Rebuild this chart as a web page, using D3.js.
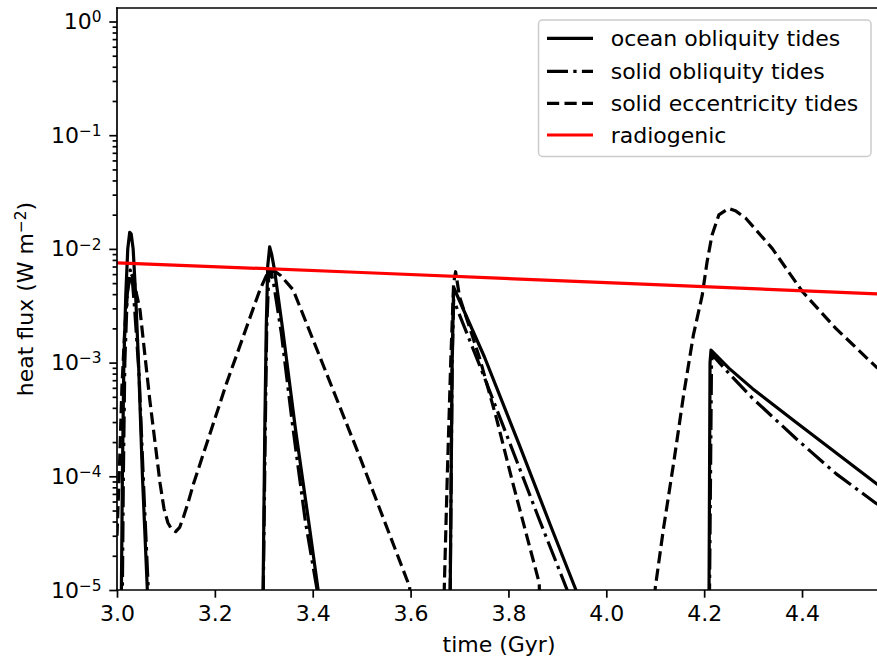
<!DOCTYPE html>
<html>
<head>
<meta charset="utf-8">
<script src="https://cdn.jsdelivr.net/npm/d3@7"></script>
<style>
  html, body { margin: 0; padding: 0; background: #fff; }
  svg { display: block; font-family: "DejaVu Sans", sans-serif; }
</style>
</head>
<body>
<div id="chart"></div>
<script>
// series as [time (Gyr), heat flux (W m^-2)]
// values below 1e-5 just run off the bottom of the axes
const oceanTides = [
  [3.000, 1e-7], [3.006, 1e-7], [3.009, 1e-5], [3.011, 1e-4], [3.014, 1e-3], [3.018, 4e-3],
  [3.022, 1e-2], [3.026, 1.4e-2], [3.029, 1.35e-2], [3.033, 1e-2], [3.038, 4e-3], [3.044, 1e-3],
  [3.052, 1e-4], [3.062, 1e-5], [3.068, 1e-7],
  [3.296, 1e-7], [3.2986, 1e-5], [3.302, 2.5e-4], [3.305, 2e-3], [3.308, 7e-3], [3.312, 1.04e-2],
  [3.316, 9e-3], [3.322, 6.5e-3], [3.339, 1.9e-3], [3.365, 2.55e-4], [3.394, 3.4e-5], [3.411, 1e-5],
  [3.420, 1e-7],
  [3.677, 1e-7], [3.681, 1e-5], [3.683, 1e-4], [3.685, 1e-3], [3.688, 4.6e-3], [3.700, 3.5e-3],
  [3.751, 1.12e-3], [3.822, 1.9e-4], [3.887, 3.6e-5], [3.938, 1e-5], [3.950, 1e-7],
  [4.206, 1e-7], [4.210, 1e-5], [4.211, 1e-4], [4.212, 1e-3], [4.214, 1.29e-3], [4.251, 8.9e-4],
  [4.299, 5.9e-4], [4.387, 3.0e-4], [4.470, 1.6e-4], [4.551, 8.7e-5], [4.565, 7.85e-5]
];

const solidObliquityTides = [
  [3.000, 1e-7], [3.008, 1e-7], [3.011, 1e-5], [3.013, 1e-4], [3.016, 1e-3], [3.021, 4e-3],
  [3.027, 6.5e-3], [3.031, 5.5e-3], [3.036, 3e-3], [3.045, 8e-4], [3.054, 9e-5], [3.064, 1e-5],
  [3.070, 1e-7],
  [3.296, 1e-7], [3.299, 1e-5], [3.303, 2.5e-4], [3.306, 2e-3], [3.310, 5.5e-3], [3.314, 6.5e-3],
  [3.320, 5e-3], [3.336, 1.8e-3], [3.358, 3e-4], [3.385, 4e-5], [3.409, 1e-5], [3.420, 1e-7],
  [3.677, 1e-7], [3.681, 1e-5], [3.683, 1e-4], [3.685, 1e-3], [3.688, 3.56e-3], [3.700, 2.63e-3],
  [3.741, 9.5e-4], [3.802, 2.0e-4], [3.860, 4.5e-5], [3.920, 1e-5], [3.930, 1e-7],
  [4.207, 1e-7], [4.211, 1e-5], [4.213, 1e-4], [4.215, 1e-3], [4.217, 1.17e-3], [4.251, 8.0e-4],
  [4.299, 4.85e-4], [4.387, 2.16e-4], [4.470, 1.05e-4], [4.551, 5.8e-5], [4.565, 5.3e-5]
];

const eccentricityTides = [
  [3.000, 3e-5], [3.005, 1.2e-4], [3.010, 6e-4], [3.016, 2e-3], [3.022, 4.5e-3], [3.029, 6e-3],
  [3.034, 5.5e-3], [3.040, 4e-3], [3.047, 2.9e-3], [3.067, 4.7e-4], [3.088, 8.7e-5], [3.096, 5.2e-5],
  [3.104, 3.9e-5], [3.112, 3.4e-5], [3.120, 3.26e-5], [3.128, 3.55e-5], [3.136, 4.4e-5],
  [3.146, 6.0e-5], [3.156, 8.5e-5],
  [3.224, 6.6e-4], [3.292, 4.36e-3], [3.305, 5.8e-3], [3.319, 6.5e-3], [3.335, 5.8e-3],
  [3.360, 4.36e-3], [3.428, 8.05e-4], [3.496, 1.49e-4], [3.598, 1.07e-5], [3.620, 1e-7],
  [3.660, 1e-7], [3.669, 1.1e-5], [3.675, 1e-4], [3.682, 1e-3], [3.688, 5e-3], [3.692, 6.3e-3],
  [3.700, 3.8e-3], [3.741, 1.1e-3], [3.775, 3.3e-4], [3.809, 8.7e-5], [3.863, 1.15e-5],
  [3.870, 1e-7],
  [4.090, 1e-7], [4.100, 1.04e-5], [4.117, 3.5e-5], [4.138, 1.34e-4], [4.158, 5.2e-4],
  [4.178, 1.75e-3], [4.196, 3.9e-3], [4.206, 7.7e-3], [4.216, 1.32e-2], [4.230, 1.99e-2],
  [4.250, 2.27e-2], [4.265, 2.15e-2], [4.285, 1.86e-2], [4.339, 1.01e-2], [4.401, 4.2e-3],
  [4.469, 2.0e-3], [4.551, 9.2e-4], [4.565, 8.3e-4]
];

const radiogenic = [[3.0, 7.55e-3], [3.5, 6.2e-3], [4.05, 4.95e-3], [4.565, 4.0e-3]];

const xTicks = [3.0, 3.2, 3.4, 3.6, 3.8, 4.0, 4.2, 4.4];
const yDecades = [-5, -4, -3, -2, -1, 0];

const seriesNames = ['ocean obliquity tides', 'solid obliquity tides', 'solid eccentricity tides', 'radiogenic'];

// pixel layout
const width = 877, height = 662;
const plot = { left: 117, top: 8, right: 881, bottom: 590 };
const lw = 3.2;
const styles = [
  { data: oceanTides, color: '#000', dash: null },
  { data: solidObliquityTides, color: '#000', dash: '21,5.3,3.3,5.3' },
  { data: eccentricityTides, color: '#000', dash: '12.2,5.3' },
  { data: radiogenic, color: '#ff0000', dash: null }
];

const xScale = d3.scaleLinear()
  .domain([3.0, 3.0 + (plot.right - plot.left) / 489.3])
  .range([plot.left, plot.right]);

const yScale = d3.scaleLog()
  .domain([1e-5, Math.pow(10, (plot.bottom - plot.top) / 113.7 - 5)])
  .range([plot.bottom, plot.top]);

const svg = d3.select('#chart').append('svg')
  .attr('width', width)
  .attr('height', height)
  .attr('viewBox', `0 0 ${width} ${height}`);

svg.append('defs').append('clipPath').attr('id', 'plot-clip')
  .append('rect')
  .attr('x', plot.left).attr('y', plot.top)
  .attr('width', plot.right - plot.left).attr('height', plot.bottom - plot.top);

// lines
const line = d3.line()
  .x(d => xScale(d[0]))
  .y(d => yScale(d[1]));

const lines = svg.append('g').attr('clip-path', 'url(#plot-clip)');
styles.forEach(s => {
  lines.append('path')
    .datum(s.data)
    .attr('d', line)
    .attr('fill', 'none')
    .attr('stroke', s.color)
    .attr('stroke-width', lw)
    .attr('stroke-linejoin', 'round')
    .attr('stroke-dasharray', s.dash);
});

// axes
const fontSize = 22;
const tickLen = 7.7, tickPad = 7.7;

svg.append('g')
  .attr('transform', `translate(0, ${plot.bottom})`)
  .call(d3.axisBottom(xScale).tickValues(xTicks).tickFormat(d3.format('.1f'))
    .tickSize(tickLen).tickPadding(tickPad).tickSizeOuter(0));

// minor log ticks
const minor = [];
yDecades.forEach(e => {
  for (let k = 2; k <= 9; k++) {
    const v = k * Math.pow(10, e);
    if (v <= yScale.domain()[1]) minor.push(v);
  }
});
svg.append('g')
  .attr('transform', `translate(${plot.left}, 0)`)
  .call(d3.axisLeft(yScale).tickValues(minor).tickFormat('').tickSize(4.4).tickSizeOuter(0));

const yAxis = svg.append('g')
  .attr('transform', `translate(${plot.left}, 0)`)
  .call(d3.axisLeft(yScale).tickValues(yDecades.map(e => Math.pow(10, e)))
    .tickSize(tickLen).tickPadding(tickPad).tickSizeOuter(0).tickFormat(''));

yAxis.selectAll('.tick text').each(function (d) {
  const e = Math.round(Math.log10(d));
  const t = d3.select(this);
  t.append('tspan').text('10');
  t.append('tspan').attr('dy', '-0.45em').attr('font-size', '0.7em')
    .text(e < 0 ? '\u2212' + (-e) : String(e));
});

svg.selectAll('.domain').remove();
svg.selectAll('.tick line').attr('stroke', '#000').attr('stroke-width', 1.7);
svg.selectAll('.tick text').attr('font-size', fontSize).attr('fill', '#000')
  .attr('font-family', '"DejaVu Sans", sans-serif');

// spines (right one falls past the picture edge)
const spine = svg.append('g').attr('stroke', '#000').attr('stroke-width', 1.7)
  .attr('stroke-linecap', 'square');
spine.append('line').attr('x1', plot.left).attr('x2', plot.left).attr('y1', plot.top).attr('y2', plot.bottom);
spine.append('line').attr('x1', plot.left).attr('x2', plot.right).attr('y1', plot.bottom).attr('y2', plot.bottom);
spine.append('line').attr('x1', plot.left).attr('x2', plot.right).attr('y1', plot.top).attr('y2', plot.top);
spine.append('line').attr('x1', plot.right).attr('x2', plot.right).attr('y1', plot.top).attr('y2', plot.bottom);

// axis labels
svg.append('text')
  .attr('x', (plot.left + plot.right) / 2)
  .attr('y', 652)
  .attr('text-anchor', 'middle')
  .attr('font-size', fontSize)
  .text('time (Gyr)');

const ylab = svg.append('text')
  .attr('transform', `translate(33, ${(plot.top + plot.bottom) / 2}) rotate(-90)`)
  .attr('text-anchor', 'middle')
  .attr('font-size', fontSize);
ylab.append('tspan').text('heat flux (W m');
ylab.append('tspan').attr('dy', '-0.45em').attr('font-size', '0.7em').text('\u22122');
ylab.append('tspan').attr('dy', '0.315em').text(')');

// legend
const legend = svg.append('g');
legend.append('rect')
  .attr('x', 538.5).attr('y', 20)
  .attr('width', 332.5).attr('height', 136.5)
  .attr('rx', 4)
  .attr('fill', '#fff').attr('fill-opacity', 0.8)
  .attr('stroke', '#cccccc').attr('stroke-width', 1.5);

const rowY = [38.3, 71.3, 103.3, 135];
seriesNames.forEach((name, i) => {
  const s = styles[i];
  legend.append('line')
    .attr('x1', 547).attr('x2', 593)
    .attr('y1', rowY[i]).attr('y2', rowY[i])
    .attr('stroke', s.color)
    .attr('stroke-width', lw)
    .attr('stroke-dasharray', s.dash);
  legend.append('text')
    .attr('x', 610.7).attr('y', rowY[i])
    .attr('dy', '0.35em')
    .attr('font-size', fontSize)
    .text(name);
});
</script>
</body>
</html>
